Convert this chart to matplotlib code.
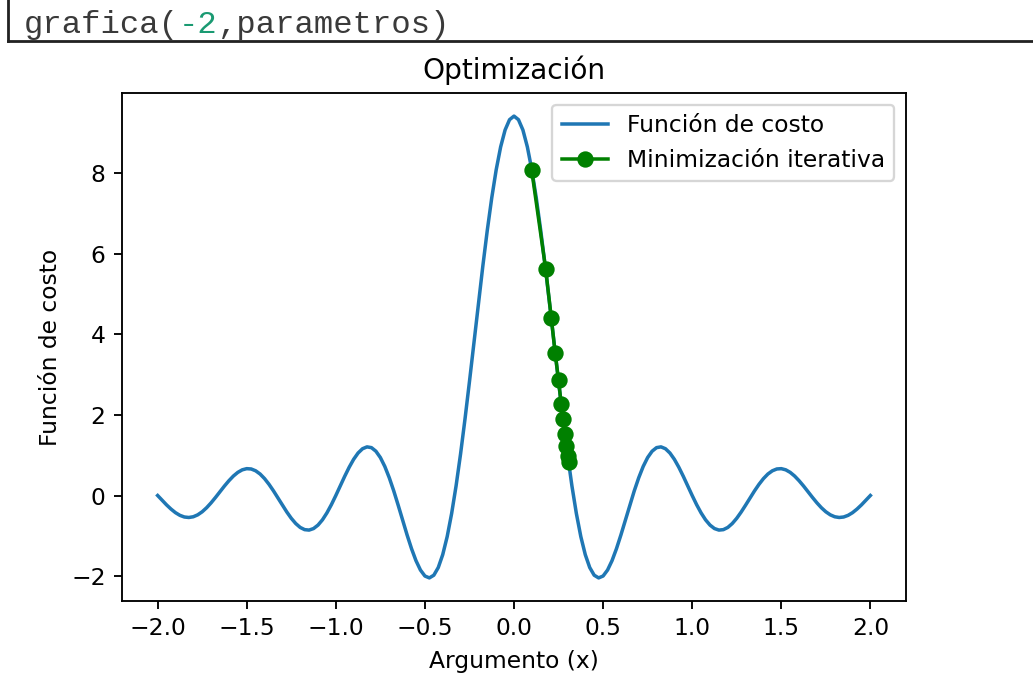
import matplotlib
matplotlib.use("Agg")
import matplotlib.pyplot as plt

# curve (x step 0.025)
x_curve = [round(-2 + 0.025 * i, 3) for i in range(161)]
y_half = [9.425, 9.336, 9.080, 8.659, 8.090, 7.391, 6.585, 5.697, 4.755, 3.789,
          2.828, 1.900, 1.030, 0.241, -0.447, -1.021, -1.469, -1.789, -1.980, -2.047,
          -2.000, -1.852, -1.620, -1.322, -0.980, -0.612, -0.241, 0.116, 0.441, 0.721,
          0.943, 1.100, 1.189, 1.208, 1.162, 1.056, 0.899, 0.702, 0.478, 0.239,
          0.000, -0.228, -0.432, -0.604, -0.735, -0.821, -0.859, -0.848, -0.793, -0.696,
          -0.566, -0.410, -0.238, -0.059, 0.116, 0.278, 0.420, 0.534, 0.614, 0.659,
          0.667, 0.638, 0.575, 0.483, 0.367, 0.236, 0.095, -0.047, -0.182, -0.303,
          -0.404, -0.480, -0.528, -0.546, -0.534, -0.493, -0.426, -0.337, -0.233, -0.118,
          0.000]
y_curve = y_half[:0:-1] + y_half

# iterative minimisation steps
x_steps = [0.099, 0.178, 0.209, 0.231, 0.250, 0.265, 0.275, 0.286, 0.294, 0.302, 0.307]
y_steps = [8.09, 5.62, 4.42, 3.54, 2.86, 2.27, 1.89, 1.52, 1.23, 0.98, 0.82]

dpi = 168
fig = plt.figure(figsize=(1033 / dpi, 676 / dpi), dpi=dpi)

# notebook cell strip on top
fig.add_artist(plt.Line2D([8 / 1033, 8 / 1033], [1, 1 - 41 / 676], color='#222222', lw=1.2))
fig.add_artist(plt.Line2D([8 / 1033, 1], [1 - 41 / 676, 1 - 41 / 676], color='#222222', lw=1.2))
fs = 13.8
t = fig.text(24 / 1033, 1 - 33 / 676, "grafica(", family='Liberation Mono', fontsize=fs, color='#3a3a3a')
fig.canvas.draw()
r = fig.canvas.get_renderer()
cx = t.get_window_extent(r).x1
t2 = fig.text(cx / 1033, 1 - 33 / 676, "-2", family='Liberation Mono', fontsize=fs, color='#1a9a72')
cx = t2.get_window_extent(r).x1
fig.text(cx / 1033, 1 - 33 / 676, ",parametros)", family='Liberation Mono', fontsize=fs, color='#3a3a3a')

ax = fig.add_axes([122 / 1033, 75 / 676, 784 / 1033, 508 / 676])
ax.plot(x_curve, y_curve, label='Función de costo')
ax.plot(x_steps, y_steps, 'o-', color='green', label='Minimización iterativa')
ax.set_title('Optimización')
ax.set_xlabel('Argumento (x)')
ax.set_ylabel('Función de costo')
ax.legend()

fig.savefig('out.png', dpi=dpi)
